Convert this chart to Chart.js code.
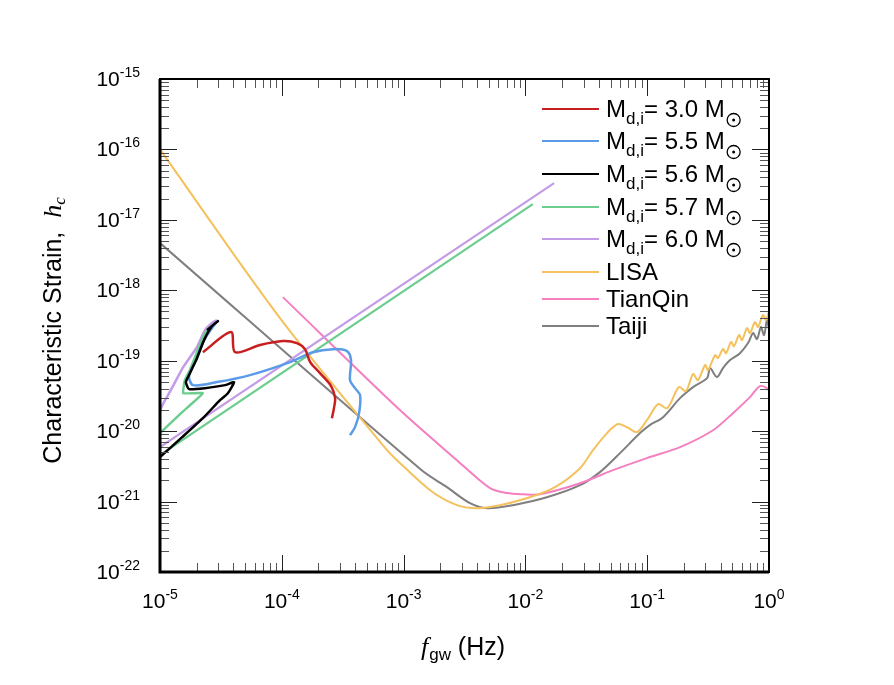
<!DOCTYPE html>
<html>
<head>
<meta charset="utf-8">
<script src="https://cdn.jsdelivr.net/npm/chart.js@4.4.0/dist/chart.umd.min.js"></script>
<style>
  html, body { margin: 0; padding: 0; background: #fff; }
  canvas { display: block; }
</style>
</head>
<body>
<canvas id="strainChart" width="894" height="685"></canvas>
<script>
// ---- data (frequency in Hz, characteristic strain) ----
const lisaF = [1e-5, 9.66e-5, 7.31e-4, 8.83e-4, 1.65e-3, 2.74e-3, 4.01e-3, 6.18e-3, 1.09e-2, 1.75e-2, 2.81e-2, 3.59e-2, 4.68e-2, 5.75e-2, 6.82e-2, 8.24e-2, 9.95e-2, 0.123, 0.146, 0.182, 0.208, 0.238, 0.261, 0.299, 0.316, 0.361, 0.381, 0.419, 0.444, 0.488, 0.516, 0.568, 0.600, 0.659, 0.698, 0.767, 0.812, 0.893, 0.944, 1.0];
const lisaH = [1.0e-16, 4.03e-19, 5.37e-21, 3.87e-21, 1.45e-21, 8.89e-22, 8.05e-22, 8.89e-22, 1.15e-21, 1.6e-21, 2.98e-21, 5.37e-21, 9.38e-21, 1.26e-20, 1.14e-20, 9.68e-21, 1.43e-20, 2.42e-20, 2.12e-20, 4.22e-20, 3.70e-20, 6.46e-20, 5.30e-20, 8.67e-20, 7.35e-20, 1.20e-19, 1.09e-19, 1.46e-19, 1.28e-19, 1.84e-19, 1.61e-19, 2.31e-19, 1.96e-19, 2.90e-19, 2.47e-19, 3.53e-19, 3.00e-19, 4.45e-19, 3.78e-19, 5.07e-19];

const tianqinF = [1.02e-4, 9.33e-4, 2.74e-3, 5.12e-3, 7.06e-3, 9.55e-3, 1.32e-2, 2.81e-2, 5.24e-2, 9.95e-2, 0.186, 0.347, 0.506, 0.698, 0.843, 0.963, 1.0];
const tianqinH = [8.0e-19, 1.99e-20, 3.87e-21, 1.55e-21, 1.32e-21, 1.27e-21, 1.27e-21, 1.82e-21, 2.79e-21, 4.14e-21, 5.93e-21, 1.03e-20, 1.80e-20, 3.04e-20, 4.36e-20, 4.08e-20, 3.70e-20];

const taijiF = [1e-5, 1.4e-3, 2.27e-3, 3.51e-3, 4.84e-3, 7.91e-3, 1.50e-2, 2.81e-2, 4.09e-2, 5.98e-2, 8.73e-2, 0.105, 0.135, 0.186, 0.238, 0.310, 0.328, 0.374, 0.419, 0.479, 0.578, 0.673, 0.740, 0.796, 0.859, 0.910, 0.963, 1.0];
const taijiH = [4.68e-18, 2.8e-21, 1.60e-21, 9.48e-22, 8.05e-22, 8.89e-22, 1.15e-21, 1.71e-21, 2.62e-21, 4.87e-21, 9.38e-21, 1.22e-20, 1.58e-20, 2.94e-20, 4.22e-20, 5.66e-20, 7.85e-20, 5.85e-20, 7.85e-20, 1.02e-19, 1.28e-19, 1.78e-19, 2.47e-19, 2.03e-19, 3.00e-19, 2.31e-19, 3.78e-19, 2.72e-19];

const m30F = [2.25e-5, 3.83e-5, 4.13e-5, 6.62e-5, 1.02e-4, 1.33e-4, 1.55e-4, 1.71e-4, 2.06e-4, 2.54e-4, 2.74e-4, 2.68e-4, 2.58e-4];
const m30H = [1.32e-19, 2.55e-19, 1.32e-19, 1.67e-19, 1.90e-19, 1.78e-19, 1.46e-19, 9.55e-20, 6.67e-20, 4.36e-20, 2.94e-20, 2.12e-20, 1.53e-20];

const m55F = [2.94e-5, 2.30e-5, 1.98e-5, 1.73e-5, 1.87e-5, 2.94e-5, 5.48e-5, 1.17e-4, 1.80e-4, 2.63e-4, 3.43e-4, 3.70e-4, 3.63e-4, 3.99e-4, 4.39e-4, 4.31e-4, 3.99e-4, 3.63e-4];
const m55H = [3.65e-19, 1.96e-19, 1.02e-19, 6.24e-20, 4.50e-20, 4.97e-20, 6.24e-20, 9.55e-20, 1.32e-19, 1.46e-19, 1.37e-19, 1.02e-19, 5.30e-20, 4.08e-20, 3.24e-20, 1.80e-20, 1.14e-20, 8.77e-21];

const m56F = [1e-5, 1.52e-5, 2.25e-5, 3.11e-5, 3.61e-5, 4.06e-5, 3.42e-5, 2.34e-5, 1.73e-5, 1.63e-5, 1.73e-5, 1.98e-5, 2.30e-5, 2.67e-5, 2.99e-5, 2.43e-5];
const m56H = [4.28e-21, 8.22e-21, 1.53e-20, 2.75e-20, 3.46e-20, 4.97e-20, 4.50e-20, 4.08e-20, 3.95e-20, 4.97e-20, 6.24e-20, 1.02e-19, 1.96e-19, 3.10e-19, 3.65e-19, 2.72e-19];

const m57F = [1e-5, 1.52e-5, 2.25e-5, 1.55e-5, 1.60e-5, 1.76e-5, 2.01e-5, 2.34e-5, 2.88e-5];
const m57H = [9.38e-21, 1.86e-20, 3.46e-20, 3.46e-20, 5.30e-20, 7.35e-20, 1.32e-19, 2.47e-19, 3.53e-19];
const m57LineF = [1e-5, 1.15e-2];
const m57LineH = [4.56e-21, 1.67e-17];

const m60F = [1e-5, 1.10e-5, 1.14e-5, 1.33e-5, 1.55e-5, 2.01e-5, 2.34e-5, 2.72e-5, 2.94e-5];
const m60H = [1.99e-20, 2.75e-20, 3.04e-20, 4.97e-20, 8.11e-20, 1.56e-19, 2.72e-19, 3.53e-19, 3.78e-19];
const m60LineF = [1e-5, 1.72e-2];
const m60LineH = [5.93e-21, 3.33e-17];

const legendMasses = ['3.0', '5.5', '5.6', '5.7', '6.0'];
const detectorNames = ['LISA', 'TianQin', 'Taiji'];

const xTickExp = [-5, -4, -3, -2, -1, 0];
const yTickExp = [-22, -21, -20, -19, -18, -17, -16, -15];

const RED = '#c81e1e', BLUE = '#5b9be8', BLACK = '#000000', GREEN = '#6ccd8e',
      PURPLE = '#c39be6', ORANGE = '#f4c15d', PINK = '#f57fc0', GRAY = '#7f7f7f';

function pts(fs, hs) { return fs.map((f, i) => ({ x: f, y: hs[i] })); }

function series(label, fs, hs, color, width, tension) {
  return {
    label: label,
    data: pts(fs, hs),
    showLine: true,
    borderColor: color,
    backgroundColor: color,
    borderWidth: width,
    pointRadius: 0,
    tension: tension,
    fill: false
  };
}

// first dataset ends up on top
const datasets = [
  series('M5.6', m56F, m56H, BLACK, 2.5, 0.15),
  series('M3.0', m30F, m30H, RED, 2.5, 0.3),
  series('M5.5', m55F, m55H, BLUE, 2.5, 0.3),
  series('M5.7', m57F, m57H, GREEN, 2.5, 0.1),
  series('M6.0', m60F, m60H, PURPLE, 2.5, 0.2),
  series('M5.7 line', m57LineF, m57LineH, GREEN, 2.2, 0),
  series('M6.0 line', m60LineF, m60LineH, PURPLE, 2.2, 0),
  series('LISA', lisaF, lisaH, ORANGE, 2, 0.3),
  series('TianQin', tianqinF, tianqinH, PINK, 2, 0.3),
  series('Taiji', taijiF, taijiH, GRAY, 2, 0.3)
];

const legendItems = [
  { m: legendMasses[0], color: RED },
  { m: legendMasses[1], color: BLUE },
  { m: legendMasses[2], color: BLACK },
  { m: legendMasses[3], color: GREEN },
  { m: legendMasses[4], color: PURPLE },
  { name: detectorNames[0], color: ORANGE },
  { name: detectorNames[1], color: PINK },
  { name: detectorNames[2], color: GRAY }
];
const legendRows = [109, 141, 174, 207, 239, 272, 299, 326];

const SANS = '"Liberation Sans", Arial, sans-serif';
const SERIF = '"Liberation Serif", "Times New Roman", serif';

// power-of-ten label: "10" plus raised exponent
function powLabel(ctx, exp, x, y, align) {
  ctx.font = '21px ' + SANS;
  const base = ctx.measureText('10').width;
  ctx.font = '14px ' + SANS;
  const sup = ctx.measureText(String(exp)).width;
  const total = base + sup;
  const x0 = align === 'right' ? x - total : x - total / 2;
  ctx.textAlign = 'left';
  ctx.textBaseline = 'alphabetic';
  ctx.font = '21px ' + SANS;
  ctx.fillText('10', x0, y);
  ctx.font = '14px ' + SANS;
  ctx.fillText(String(exp), x0 + base, y - 9);
}

function sunSymbol(ctx, cx, cy) {
  ctx.beginPath();
  ctx.lineWidth = 1.3;
  ctx.arc(cx, cy, 6.5, 0, Math.PI * 2);
  ctx.stroke();
  ctx.beginPath();
  ctx.arc(cx, cy, 1.5, 0, Math.PI * 2);
  ctx.fill();
}

const framePlugin = {
  id: 'framePlugin',
  afterDatasetsDraw(chart) {
    const ctx = chart.ctx;
    const a = chart.chartArea;
    const xs = chart.scales.x, ys = chart.scales.y;
    ctx.save();

    // minor + major ticks, pointing inward, on all four sides
    for (let e = -5; e <= 0; e++) {
      for (let m = 1; m <= 9; m++) {
        const v = m * Math.pow(10, e);
        if (v > 1.0001) break;
        const px = Math.round(xs.getPixelForValue(v)) + 0.5;
        const len = m === 1 ? 17 : 9;
        ctx.strokeStyle = m === 1 ? '#222' : '#555';
        ctx.lineWidth = 1;
        ctx.beginPath();
        ctx.moveTo(px, a.bottom); ctx.lineTo(px, a.bottom - len);
        ctx.moveTo(px, a.top); ctx.lineTo(px, a.top + len);
        ctx.stroke();
      }
    }
    for (let e = -22; e <= -15; e++) {
      for (let m = 1; m <= 9; m++) {
        const v = m * Math.pow(10, e);
        if (e === -15 && m > 1) break;
        const py = Math.round(ys.getPixelForValue(v)) + 0.5;
        const len = m === 1 ? 17 : 9;
        ctx.strokeStyle = m === 1 ? '#222' : '#555';
        ctx.lineWidth = 1;
        ctx.beginPath();
        ctx.moveTo(a.left, py); ctx.lineTo(a.left + len, py);
        ctx.moveTo(a.right, py); ctx.lineTo(a.right - len, py);
        ctx.stroke();
      }
    }

    // frame
    ctx.strokeStyle = '#000';
    ctx.lineWidth = 2;
    ctx.strokeRect(a.left, a.top, a.right - a.left, a.bottom - a.top);
    ctx.lineWidth = 3;
    ctx.beginPath();
    ctx.moveTo(a.left, a.top); ctx.lineTo(a.left, a.bottom); ctx.lineTo(a.right, a.bottom);
    ctx.stroke();

    // tick labels
    ctx.fillStyle = '#000';
    xTickExp.forEach(e => powLabel(ctx, e, xs.getPixelForValue(Math.pow(10, e)), a.bottom + 36, 'center'));
    yTickExp.forEach(e => powLabel(ctx, e, a.left - 20, ys.getPixelForValue(Math.pow(10, e)) + 7, 'right'));

    // x title: f_gw (Hz)
    ctx.textAlign = 'left';
    ctx.textBaseline = 'alphabetic';
    ctx.font = 'italic 26px ' + SERIF;
    const fW = ctx.measureText('f').width;
    ctx.font = '17px ' + SANS;
    const gwW = ctx.measureText('gw').width;
    ctx.font = '25px ' + SANS;
    const hzW = ctx.measureText(' (Hz)').width;
    const xtX = (a.left + a.right) / 2 - (fW + gwW + hzW) / 2 - 2;
    const xtY = 655;
    ctx.font = 'italic 26px ' + SERIF;
    ctx.fillText('f', xtX, xtY);
    ctx.font = '17px ' + SANS;
    ctx.fillText('gw', xtX + fW + 1, xtY + 5);
    ctx.font = '25px ' + SANS;
    ctx.fillText(' (Hz)', xtX + fW + gwW + 1, xtY);

    // y title: Characteristic Strain, h_c
    ctx.save();
    ctx.translate(61, (a.top + a.bottom) / 2 + 5);
    ctx.rotate(-Math.PI / 2);
    ctx.font = '25px ' + SANS;
    const t1 = 'Characteristic Strain,  ';
    const t1W = ctx.measureText(t1).width;
    ctx.font = 'italic 26px ' + SERIF;
    const hW = ctx.measureText('h').width;
    ctx.font = 'italic 17px ' + SERIF;
    const cW = ctx.measureText('c').width;
    const ytX = -(t1W + hW + cW) / 2;
    ctx.font = '25px ' + SANS;
    ctx.fillText(t1, ytX, 0);
    ctx.font = 'italic 26px ' + SERIF;
    ctx.fillText('h', ytX + t1W, 0);
    ctx.font = 'italic 17px ' + SERIF;
    ctx.fillText('c', ytX + t1W + hW, 4);
    ctx.restore();

    // legend
    legendItems.forEach((it, i) => {
      const y = legendRows[i];
      ctx.strokeStyle = it.color;
      ctx.lineWidth = 2;
      ctx.beginPath();
      ctx.moveTo(542, y); ctx.lineTo(599, y);
      ctx.stroke();
      ctx.fillStyle = '#000';
      ctx.strokeStyle = '#000';
      let x = 606;
      const base = y + 8;
      if (it.m) {
        ctx.font = '24px ' + SANS;
        ctx.fillText('M', x, base);
        x += ctx.measureText('M').width;
        ctx.font = '17px ' + SANS;
        ctx.fillText('d,i', x, base + 7);
        x += ctx.measureText('d,i').width;
        ctx.font = '24px ' + SANS;
        const txt = '= ' + it.m + ' M';
        ctx.fillText(txt, x, base);
        x += ctx.measureText(txt).width;
        sunSymbol(ctx, x + 9, y + 11);
      } else {
        ctx.font = '24px ' + SANS;
        ctx.fillText(it.name, x, base);
      }
    });

    ctx.restore();
  }
};

new Chart(document.getElementById('strainChart').getContext('2d'), {
  type: 'scatter',
  data: { datasets: datasets },
  options: {
    responsive: false,
    animation: false,
    layout: { padding: { left: 160, top: 79, right: 125, bottom: 113 } },
    plugins: { legend: { display: false }, tooltip: { enabled: false } },
    scales: {
      x: { type: 'logarithmic', min: 1e-5, max: 1, display: false },
      y: { type: 'logarithmic', min: 1e-22, max: 1e-15, display: false }
    }
  },
  plugins: [framePlugin]
});
</script>
</body>
</html>
